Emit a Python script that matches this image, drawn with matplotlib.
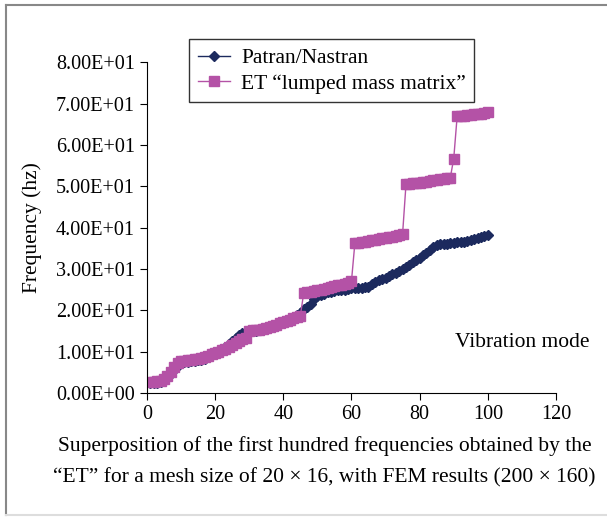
import matplotlib
matplotlib.use("Agg")
import matplotlib.pyplot as plt
from matplotlib.ticker import FormatStrFormatter, MultipleLocator
from matplotlib.lines import Line2D

plt.rcParams['font.family'] = ['Liberation Serif', 'DejaVu Serif']

modes = list(range(1, 101))

patran = [2.3, 2.4, 2.5, 2.6, 3.0, 3.6, 4.5, 5.5, 6.5, 7.2,
          7.4, 7.5, 7.6, 7.8, 7.9, 8.0, 8.3, 8.7, 9.2, 9.7,
          10.2, 10.6, 11.2, 11.9, 12.6, 13.3, 14.0, 14.6, 14.8, 14.8,
          14.9, 15.0, 15.1, 15.3, 15.6, 15.9, 16.3, 16.7, 17.1, 17.4,
          17.7, 18.0, 18.4, 18.8, 19.3, 20.3, 20.9, 21.4, 22.6, 23.4,
          23.8, 24.0, 24.3, 24.5, 24.7, 24.8, 24.9, 25.0, 25.2, 25.3,
          25.4, 25.3, 25.4, 25.6, 25.7, 26.3, 26.9, 27.3, 27.6, 27.9,
          28.3, 28.7, 29.1, 29.6, 30.0, 30.5, 31.0, 31.6, 32.2, 32.7,
          33.3, 33.9, 34.6, 35.3, 35.8, 36.0, 36.0, 36.1, 36.2, 36.3,
          36.4, 36.5, 36.6, 36.8, 37.0, 37.2, 37.4, 37.6, 37.9, 38.2]

et_lumped = [2.6, 2.7, 2.8, 2.9, 3.3, 4.0, 5.0, 6.2, 7.2, 7.6,
             7.8, 7.9, 8.0, 8.1, 8.2, 8.4, 8.7, 9.0, 9.4, 9.7,
             10.0, 10.3, 10.6, 11.0, 11.5, 12.0, 12.5, 13.0, 13.4, 15.0,
             15.1, 15.2, 15.3, 15.4, 15.6, 15.9, 16.2, 16.5, 16.8, 17.1,
             17.4, 17.7, 18.0, 18.3, 18.6, 24.2, 24.3, 24.5, 24.7, 24.9,
             25.0, 25.2, 25.4, 25.6, 25.8, 26.0, 26.2, 26.4, 26.7, 27.0,
             36.2, 36.3, 36.5, 36.6, 36.8, 36.9, 37.1, 37.2, 37.4, 37.5,
             37.7, 37.8, 38.0, 38.2, 38.5, 50.5, 50.6, 50.7, 50.8, 50.9,
             51.0, 51.1, 51.3, 51.4, 51.5, 51.7, 51.8, 51.9, 52.1, 56.7,
             66.9, 67.0, 67.1, 67.2, 67.3, 67.4, 67.5, 67.6, 67.7, 67.9]

navy = '#1c2a5e'
pink = '#b452a6'

fig = plt.figure(figsize=(6.07, 5.19), dpi=100)
ax = fig.add_axes([0.242, 0.243, 0.674, 0.637])

ax.plot(modes, patran, color=navy, marker='D', markersize=5, linewidth=1)
ax.plot(modes, et_lumped, color=pink, marker='s', markersize=7, linewidth=1)

ax.set_xlim(0, 120)
ax.set_ylim(0, 80)
ax.xaxis.set_major_locator(MultipleLocator(20))
ax.yaxis.set_major_locator(MultipleLocator(10))
ax.yaxis.set_major_formatter(FormatStrFormatter('%.2E'))
ax.spines['top'].set_visible(False)
ax.spines['right'].set_visible(False)
ax.tick_params(direction='out', length=5, labelsize=14.5, color='black')
ax.set_ylabel('Frequency (hz)', fontsize=15.5, labelpad=10)

ax.text(0.753, 0.14, 'Vibration mode', transform=ax.transAxes, fontsize=15.5)

handles = [Line2D([], [], color=navy, marker='D', markersize=5, linewidth=1),
           Line2D([], [], color=pink, marker='s', markersize=7, linewidth=1)]
leg = fig.legend(handles, ['Patran/Nastran', 'ET \u201clumped mass matrix\u201d'],
                 loc='upper left', bbox_to_anchor=(0.312, 0.924), fontsize=15.5,
                 frameon=True, fancybox=False, handlelength=1.5, borderpad=0.4,
                 labelspacing=0.25, handletextpad=0.5, borderaxespad=0)
leg.get_frame().set_edgecolor('black')
leg.get_frame().set_linewidth(1)

fig.text(0.535, 0.131, 'Superposition of the first hundred frequencies obtained by the',
         ha='center', fontsize=15.5)
fig.text(0.535, 0.071, '\u201cET\u201d for a mesh size of 20 \u00d7 16, with FEM results (200 \u00d7 160)',
         ha='center', fontsize=15.5)

# frame around the figure
fig.add_artist(Line2D([0.010, 0.010], [0.008, 0.990], color='#888888', linewidth=1.5))
fig.add_artist(Line2D([0.010, 1.0], [0.990, 0.990], color='#888888', linewidth=1.5))
fig.add_artist(Line2D([0.010, 1.0], [0.008, 0.008], color='#dddddd', linewidth=1.5))

fig.savefig('out.png', dpi=100)
